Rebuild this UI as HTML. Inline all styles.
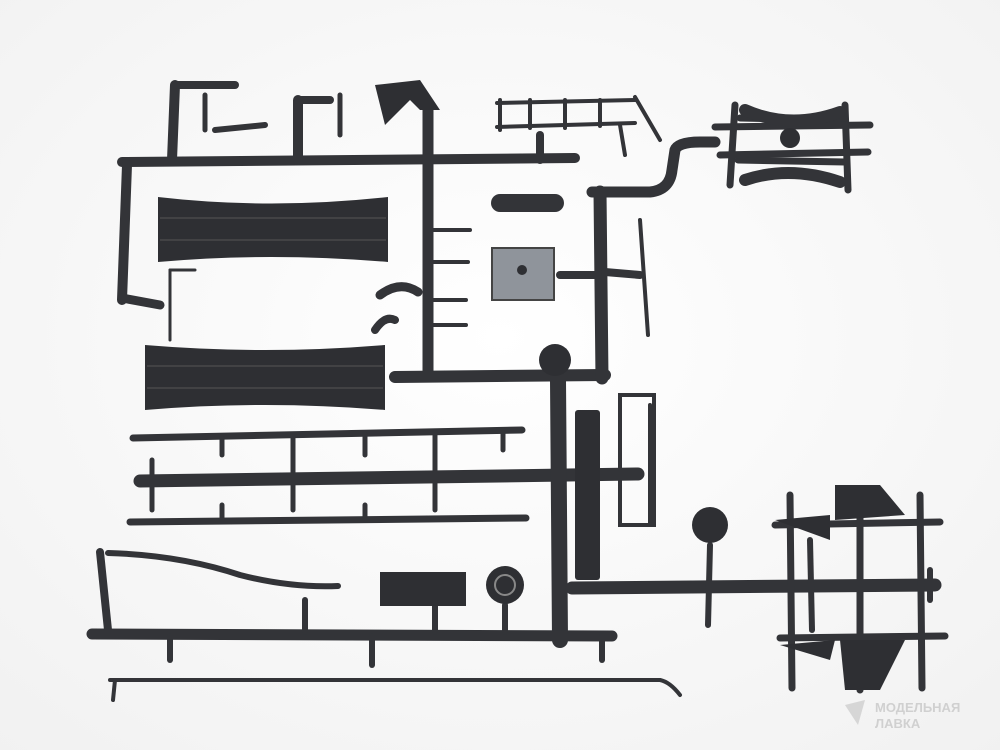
<!DOCTYPE html>
<html><head><meta charset="utf-8"><style>
html,body{margin:0;padding:0;background:#fbfbfb;}
svg{display:block}
</style></head><body>
<svg width="1000" height="750" viewBox="0 0 1000 750" xmlns="http://www.w3.org/2000/svg">
<defs>
<radialGradient id="bg" cx="50%" cy="45%" r="75%"><stop offset="0" stop-color="#ffffff"/><stop offset="1" stop-color="#f1f1f1"/></radialGradient>
</defs>
<rect width="1000" height="750" fill="url(#bg)"/>
<g stroke="#333438" stroke-linecap="round" fill="none">
<line x1="122" y1="162" x2="575" y2="158" stroke-width="10"/>
<line x1="127" y1="165" x2="122" y2="300" stroke-width="10"/>
<line x1="122" y1="298" x2="160" y2="305" stroke-width="9"/>
<line x1="175" y1="85" x2="172" y2="160" stroke-width="10"/>
<line x1="178" y1="85" x2="235" y2="85" stroke-width="8"/>
<line x1="205" y1="95" x2="205" y2="130" stroke-width="5"/>
<line x1="215" y1="130" x2="265" y2="125" stroke-width="6"/>
<line x1="298" y1="100" x2="298" y2="160" stroke-width="10"/>
<line x1="298" y1="100" x2="330" y2="100" stroke-width="8"/>
<line x1="340" y1="95" x2="340" y2="135" stroke-width="5"/>
<line x1="428" y1="110" x2="428" y2="372" stroke-width="11"/>
<line x1="395" y1="377" x2="605" y2="375" stroke-width="12"/>
<line x1="600" y1="192" x2="602" y2="378" stroke-width="13"/>
<path d="M592 192 L650 192 Q670 190 672 170 L675 150 Q678 142 700 142 L715 142" stroke-width="11"/>
<line x1="540" y1="135" x2="540" y2="160" stroke-width="8"/>
<line x1="500" y1="203" x2="555" y2="203" stroke-width="18"/>
<line x1="430" y1="230" x2="470" y2="230" stroke-width="4"/>
<line x1="430" y1="262" x2="468" y2="262" stroke-width="4"/>
<line x1="430" y1="300" x2="466" y2="300" stroke-width="4"/>
<line x1="430" y1="325" x2="466" y2="325" stroke-width="4"/>
<line x1="560" y1="275" x2="598" y2="275" stroke-width="8"/>
<line x1="605" y1="272" x2="640" y2="275" stroke-width="8"/>
<line x1="640" y1="220" x2="648" y2="335" stroke-width="4"/>
<line x1="170" y1="270" x2="195" y2="270" stroke-width="3"/>
<line x1="170" y1="270" x2="170" y2="340" stroke-width="3"/>
<path d="M380 295 Q400 280 418 292" stroke-width="9"/>
<path d="M375 330 Q385 315 395 320" stroke-width="8"/>
<g stroke-width="4">
<line x1="497" y1="103" x2="635" y2="100"/><line x1="497" y1="127" x2="635" y2="123"/>
<line x1="500" y1="100" x2="500" y2="130"/><line x1="530" y1="100" x2="530" y2="128"/>
<line x1="565" y1="100" x2="565" y2="128"/><line x1="600" y1="100" x2="600" y2="126"/>
<line x1="635" y1="97" x2="660" y2="140"/><line x1="620" y1="125" x2="625" y2="155"/>
</g>
<g stroke-width="7">
<line x1="735" y1="105" x2="730" y2="185"/><line x1="845" y1="105" x2="848" y2="190"/>
<line x1="740" y1="118" x2="845" y2="120"/><line x1="738" y1="160" x2="845" y2="162"/>
<line x1="715" y1="127" x2="870" y2="125"/><line x1="720" y1="155" x2="868" y2="152"/>
<path d="M745 180 Q790 165 840 182" stroke-width="12"/>
<path d="M745 110 Q790 130 840 112" stroke-width="12"/>
</g>
<line x1="133" y1="438" x2="522" y2="430" stroke-width="7"/>
<line x1="140" y1="481" x2="638" y2="474" stroke-width="13"/>
<line x1="130" y1="522" x2="526" y2="518" stroke-width="7"/>
<g stroke-width="5">
<line x1="222" y1="438" x2="222" y2="455"/><line x1="293" y1="436" x2="293" y2="510"/>
<line x1="365" y1="434" x2="365" y2="455"/><line x1="435" y1="432" x2="435" y2="510"/>
<line x1="152" y1="460" x2="152" y2="510"/><line x1="503" y1="430" x2="503" y2="450"/>
<line x1="222" y1="505" x2="222" y2="520"/><line x1="365" y1="505" x2="365" y2="520"/>
</g>
<line x1="558" y1="380" x2="560" y2="640" stroke-width="16"/>
<line x1="572" y1="588" x2="935" y2="585" stroke-width="13"/>
<g stroke-width="6">
<line x1="710" y1="545" x2="708" y2="625"/><line x1="810" y1="540" x2="812" y2="630"/>
<line x1="930" y1="570" x2="930" y2="600"/>
</g>
<line x1="650" y1="405" x2="650" y2="525" stroke-width="4"/>
<path d="M100 552 L108 630" stroke-width="8"/>
<path d="M108 553 Q180 555 240 575 Q290 588 338 586" stroke-width="6"/>
<line x1="92" y1="634" x2="612" y2="636" stroke-width="11"/>
<line x1="110" y1="680" x2="660" y2="680" stroke-width="4"/>
<path d="M660 680 Q670 682 680 695" stroke-width="4"/>
<line x1="115" y1="680" x2="113" y2="700" stroke-width="4"/>
<g stroke-width="6">
<line x1="170" y1="636" x2="170" y2="660"/><line x1="372" y1="636" x2="372" y2="665"/>
<line x1="602" y1="636" x2="602" y2="660"/><line x1="305" y1="600" x2="305" y2="632"/>
<line x1="435" y1="605" x2="435" y2="632"/><line x1="505" y1="605" x2="505" y2="632"/>
</g>
<g stroke-width="7">
<line x1="775" y1="525" x2="940" y2="522"/><line x1="780" y1="638" x2="945" y2="636"/>
<line x1="790" y1="495" x2="792" y2="688"/><line x1="920" y1="495" x2="922" y2="688"/>
<line x1="860" y1="500" x2="860" y2="690"/>
</g>
</g>
<g fill="#2e2f33">
<path d="M158 197 Q270 210 388 197 L388 262 Q270 252 158 262 Z"/>
<path d="M145 345 Q265 355 385 345 L385 410 Q265 400 145 410 Z"/>
<rect x="575" y="410" width="25" height="170" rx="3"/>
<rect x="380" y="572" width="86" height="34"/>
<path d="M375 85 L420 80 L440 110 L420 110 L410 100 L385 125 Z"/>
<circle cx="505" cy="585" r="19"/>
<circle cx="710" cy="525" r="18"/>
<circle cx="555" cy="360" r="16"/>
<path d="M835 485 L880 485 L905 515 L835 520 Z"/>
<path d="M840 640 L905 640 L880 690 L845 690 Z"/>
<path d="M775 520 L830 515 L830 540 Z"/>
<path d="M780 645 L835 640 L830 660 Z"/>
<circle cx="790" cy="138" r="10"/>
</g>
<g stroke="#555" stroke-width="1" fill="none">
<line x1="160" y1="218" x2="386" y2="218"/><line x1="160" y1="240" x2="386" y2="240"/>
<line x1="147" y1="366" x2="383" y2="366"/><line x1="147" y1="388" x2="383" y2="388"/>
</g>
<rect x="492" y="248" width="62" height="52" fill="#8f949b" stroke="#444" stroke-width="2"/>
<circle cx="522" cy="270" r="5" fill="#2e2f33"/>
<rect x="620" y="395" width="34" height="130" fill="none" stroke="#333438" stroke-width="4"/>
<circle cx="505" cy="585" r="10" fill="none" stroke="#888" stroke-width="2"/>
<text x="875" y="712" font-family="Liberation Sans, sans-serif" font-size="13" font-weight="bold" fill="#d0d0d0">МОДЕЛЬНАЯ</text>
<text x="875" y="728" font-family="Liberation Sans, sans-serif" font-size="13" font-weight="bold" fill="#d0d0d0">ЛАВКА</text>
<path d="M845 705 L865 700 L858 725 Z" fill="#d6d6d6"/>
</svg>
</body></html>
